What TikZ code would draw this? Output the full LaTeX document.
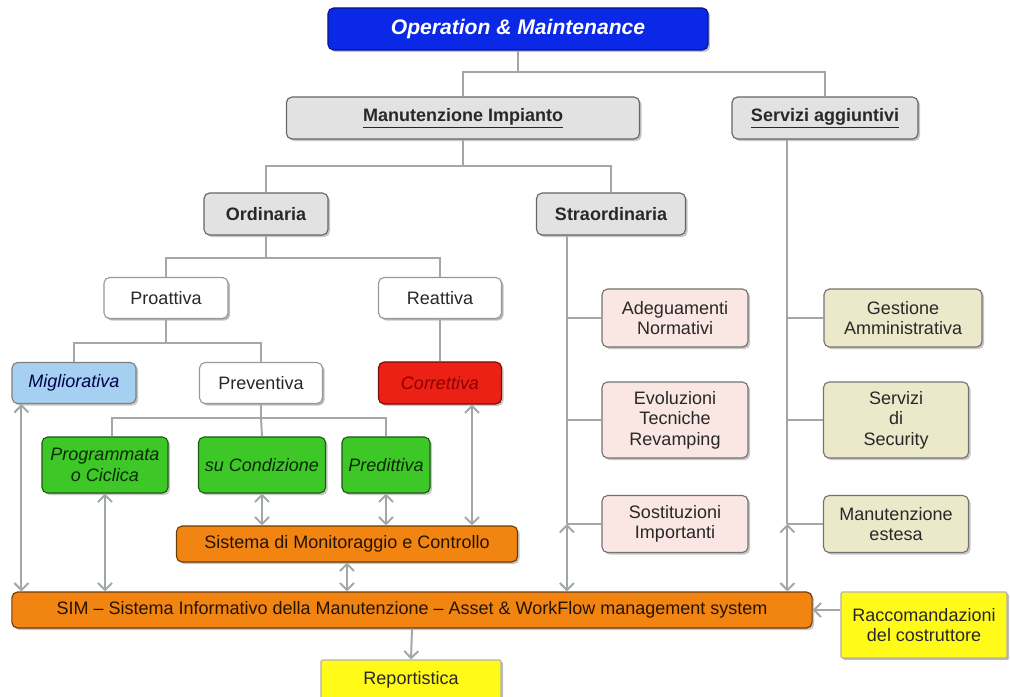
\documentclass[tikz,border=0pt]{standalone}
\usepackage{fontspec}
\setmainfont{Liberation Sans}
\usepackage{tikz}
\usetikzlibrary{positioning,arrows.meta,shadows}
\definecolor{myblue}{RGB}{10,40,230}
\definecolor{mygrey}{RGB}{226,226,226}
\definecolor{mylightblue}{RGB}{165,208,242}
\definecolor{myred}{RGB}{236,32,20}
\definecolor{mygreen}{RGB}{62,200,40}
\definecolor{myorange}{RGB}{242,132,18}
\definecolor{mypink}{RGB}{250,230,226}
\definecolor{mybeige}{RGB}{236,233,202}
\definecolor{myyellow}{RGB}{255,250,24}
\definecolor{myline}{RGB}{162,168,168}
\definecolor{mytext}{RGB}{40,40,40}

\begin{document}
\begin{tikzpicture}[x=0.025cm, y=-0.025cm,
  box/.style = {draw=black!60, rounded corners=4pt, align=center, inner sep=0pt, text=mytext, line width=0.8pt,
    font=\fontsize{12.8}{14.5}\selectfont, drop shadow={shadow xshift=1.5pt, shadow yshift=-1.5pt, opacity=0.45}},
  grey/.style = {box, fill=mygrey, font=\fontsize{12.8}{14.5}\selectfont\bfseries, minimum height=1.05cm},
  plain/.style = {box, fill=white, draw=black!40, drop shadow={shadow xshift=1pt, shadow yshift=-1pt, opacity=0.25}, minimum height=1.025cm},
  leaf/.style = {box, font=\fontsize{12.8}{14.5}\selectfont\itshape, minimum height=1.4cm, fill=mygreen, draw=black!55!mygreen, text=black!80!mygreen},
  sys/.style = {box, fill=myorange, draw=black!55!myorange, minimum height=0.9cm, text=black!85!myorange},
  extra/.style = {box, fill=mypink, draw=black!55},
  service/.style = {box, fill=mybeige, draw=black!55},
  note/.style = {box, fill=myyellow, draw=black!30, rounded corners=1pt, drop shadow={shadow xshift=1pt, shadow yshift=-1pt, opacity=0.3}},
  conn/.style = {draw=myline, line width=1.4pt},
  twoway/.style = {conn, {Straight Barb[length=5pt,width=10pt]}-{Straight Barb[length=5pt,width=10pt]}},
  oneway/.style = {conn, -{Straight Barb[length=5pt,width=10pt]}}]
  \useasboundingbox (0,0) rectangle (1010,696);

  \node[box] (om) at (518,29) [fill=myblue, draw=myblue!60!black, minimum width=9.5cm, minimum height=1.05cm,
    text=white, font=\fontsize{15}{17}\selectfont\bfseries\itshape] {Operation \& Maintenance};
  \node[grey] (mi) at (463,118) [minimum width=8.825cm] {\underline{Manutenzione Impianto}};
  \node[grey] (sa) at (825,118) [minimum width=4.65cm] {\underline{Servizi aggiuntivi}};
  \node[grey] (ord) at (266,214) [minimum width=3.1cm] {Ordinaria};
  \node[grey] (str) at (611,214) [minimum width=3.725cm] {Straordinaria};

  \node[plain] (pro) at (166,298) [minimum width=3.1cm] {Proattiva};
  \node[plain] (rea) at (440,298) [minimum width=3.075cm] {Reattiva};
  \node[plain] (prev) at (261,383) [minimum width=3.075cm] {Preventiva};
  \node[box] (mig) at (74,383) [minimum width=3.1cm, minimum height=1.025cm, fill=mylightblue, draw=black!50,
    text=blue!30!black, font=\fontsize{12.8}{14.5}\selectfont\itshape] {Migliorativa};
  \node[box] (cor) at (440,383) [minimum width=3.075cm, minimum height=1.05cm, fill=myred, draw=black!50!myred,
    text=red!55!black, font=\fontsize{12.8}{14.5}\selectfont\itshape] {Correttiva};

  \node[leaf] (prog) at (105,465) [minimum width=3.15cm] {Programmata\\o Ciclica};
  \node[leaf] (cond) at (262,465) [minimum width=3.175cm] {su Condizione};
  \node[leaf] (pred) at (386,465) [minimum width=2.2cm] {Predittiva};

  \node[sys] (mon) at (347,544) [minimum width=8.525cm] {Sistema di Monitoraggio e Controllo};
  \node[sys] (sim) at (412,610) [minimum width=20cm]
    {SIM -- Sistema Informativo della Manutenzione -- Asset \& WorkFlow management system};

  \node[extra] (ade) at (675,318) [minimum width=3.65cm, minimum height=1.45cm] {Adeguamenti\\Normativi};
  \node[extra] (evo) at (675,420) [minimum width=3.65cm, minimum height=1.9cm] {Evoluzioni\\Tecniche\\Revamping};
  \node[extra] (sost) at (675,524) [minimum width=3.65cm, minimum height=1.425cm] {Sostituzioni\\Importanti};

  \node[service] (gest) at (903,318) [minimum width=3.95cm, minimum height=1.45cm] {Gestione\\Amministrativa};
  \node[service] (sec) at (896,420) [minimum width=3.625cm, minimum height=1.9cm] {Servizi\\di\\Security};
  \node[service] (est) at (896,524) [minimum width=3.625cm, minimum height=1.425cm] {Manutenzione\\estesa};

  \node[note] (racc) at (924,625) [minimum width=4.15cm, minimum height=1.65cm] {Raccomandazioni\\del costruttore};
  \node[note] (rep) at (411,680) [minimum width=4.5cm, minimum height=1cm] {Reportistica};

  \draw[conn] (om.south) -- ++(0,21) coordinate (j1);
  \draw[conn] (mi.north) |- (j1) -| (sa.north);
  \draw[conn] (mi.south) -- ++(0,26) coordinate (j2);
  \draw[conn] (ord.north) |- (j2) -| (str.north);
  \draw[conn] (ord.south) -- ++(0,22) coordinate (j3);
  \draw[conn] (pro.north) |- (j3) -| (rea.north);
  \draw[conn] (pro.south) -- ++(0,24) coordinate (j4);
  \draw[conn] (mig.north) |- (j4) -| (prev.north);
  \draw[conn] (rea) -- (cor);
  \draw[conn] (prev.south) -- ++(0,14) coordinate (j5);
  \draw[conn] ([xshift=0.175cm]prog.north) |- (j5) -| (pred.north);
  \draw[conn] (j5) -- (cond.north);

  \path (str.south west) ++(31,0) coordinate (s0);
  \draw[conn] (s0) -- (s0 |- sost.west);
  \draw[conn] (s0 |- ade.west) -- (ade.west);
  \draw[conn] (s0 |- evo.west) -- (evo.west);
  \draw[conn] (s0 |- sost.west) -- (sost.west);
  \draw[twoway] (s0 |- sost.west) -- (s0 |- sim.north);

  \path (sa.south west) ++(56,0) coordinate (a0);
  \draw[conn] (a0) -- (a0 |- est.west);
  \draw[conn] (a0 |- gest.west) -- (gest.west);
  \draw[conn] (a0 |- sec.west) -- (sec.west);
  \draw[conn] (a0 |- est.west) -- (est.west);
  \draw[twoway] (a0 |- est.west) -- (a0 |- sim.north);

  \path (mig.south west) ++(10,0) coordinate (m0);
  \draw[twoway] (m0) -- (m0 |- sim.north);
  \draw[twoway] (prog.south) -- (prog.south |- sim.north);
  \draw[twoway] (cond.south) -- (cond.south |- mon.north);
  \draw[twoway] (pred.south) -- (pred.south |- mon.north);
  \path (cor.south) ++(32,0) coordinate (c0);
  \draw[twoway] (c0) -- (c0 |- mon.north);
  \draw[twoway] (mon.south) -- (mon.south |- sim.north);
  \draw[oneway] (sim.south) -- (rep.north);
  \draw[oneway] (racc.west |- sim.east) -- (sim.east);
\end{tikzpicture}
\end{document}
